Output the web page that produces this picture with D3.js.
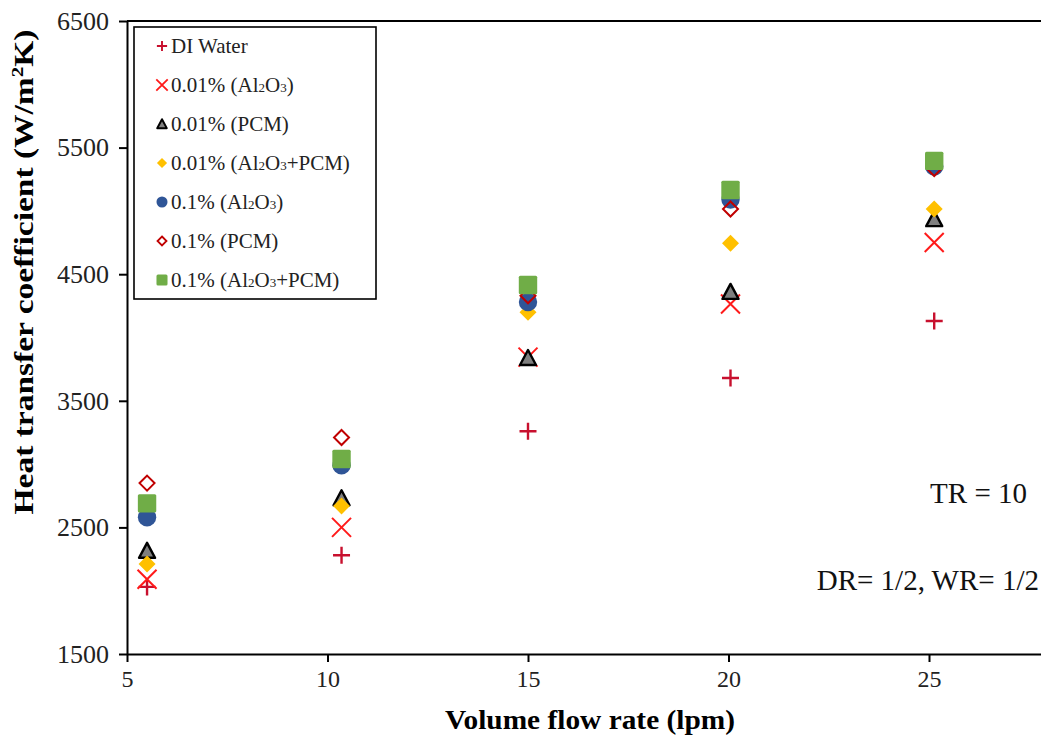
<!DOCTYPE html>
<html>
<head>
<meta charset="utf-8">
<script src="https://cdnjs.cloudflare.com/ajax/libs/d3/7.8.5/d3.min.js"></script>
<style>
  body { margin: 0; background: #fff; }
  svg { display: block; font-family: "Liberation Serif", "Times New Roman", serif; }
  svg text { font-family: "Liberation Serif", "Times New Roman", serif; }
</style>
</head>
<body>
<div id="maincontainer"></div>
<script>
// values
var flowRate = [5.5, 10.35, 15.0, 20.05, 25.13];
var diWater  = [2030, 2280, 3260, 3680, 4130];
var al001    = [2090, 2500, 3845, 4265, 4750];
var pcm001   = [2315, 2730, 3838, 4360, 4935];
var hyb001   = [2210, 2670, 4200, 4745, 5015];
var al01     = [2580, 2990, 4280, 5090, 5350];
var pcm01    = [2850, 3210, 4330, 5015, 5335];
var hyb01    = [2690, 3040, 4415, 5165, 5395];

var xTicks = [5, 10, 15, 20, 25];
var yTicks = [1500, 2500, 3500, 4500, 5500, 6500];

var series = [
  { name: "DI Water", values: diWater, mark: "plus" },
  { name: ["0.01% (Al", "2", "O", "3", ")"], values: al001, mark: "cross" },
  { name: "0.01% (PCM)", values: pcm001, mark: "triangle" },
  { name: ["0.01% (Al", "2", "O", "3", "+PCM)"], values: hyb001, mark: "diamond" },
  { name: ["0.1% (Al", "2", "O", "3", ")"], values: al01, mark: "circle" },
  { name: "0.1% (PCM)", values: pcm01, mark: "opendiamond" },
  { name: ["0.1% (Al", "2", "O", "3", "+PCM)"], values: hyb01, mark: "square" }
];

var width = 1041, height = 742;

var svg = d3.select("#maincontainer")
  .append("svg")
  .attr("width", width)
  .attr("height", height);

svg.append("rect").attr("width", width).attr("height", height).attr("fill", "#fff");

var x = d3.scaleLinear().domain([5, 30]).range([127, 127 + 25 * 40.1]);
var y = d3.scaleLinear().domain([1500, 6500]).range([654, 21]);

// draws one marker into g, s = size factor
function drawMark(g, type, s) {
  if (type == "plus") {
    g.append("path").attr("d", "M" + (-8.5 * s) + ",0H" + (8.5 * s) + "M0," + (-8.5 * s) + "V" + (8.5 * s))
      .attr("stroke", "#c8102e").attr("stroke-width", 2.4 * Math.max(s, 0.8)).attr("fill", "none");
  } else if (type == "cross") {
    var a = 9.5 * s;
    g.append("path").attr("d", "M" + (-a) + "," + (-a) + "L" + a + "," + a + "M" + (-a) + "," + a + "L" + a + "," + (-a))
      .attr("stroke", "#ff1a1a").attr("stroke-width", 2 * Math.max(s, 0.9)).attr("fill", "none");
  } else if (type == "triangle") {
    g.append("path").attr("d", "M0," + (-8 * s) + "L" + (8 * s) + "," + (7 * s) + "L" + (-8 * s) + "," + (7 * s) + "Z")
      .attr("fill", "#7f7f7f").attr("stroke", "#000").attr("stroke-width", 2.4 * Math.max(s, 0.8))
      .attr("stroke-linejoin", "round");
  } else if (type == "diamond") {
    var b = 8.5 * s;
    g.append("path").attr("d", "M0," + (-b) + "L" + b + ",0L0," + b + "L" + (-b) + ",0Z")
      .attr("fill", "#ffc000");
  } else if (type == "circle") {
    g.append("circle").attr("r", 9.2 * s).attr("fill", "#2f5597");
  } else if (type == "opendiamond") {
    var c = 7.5 * s;
    g.append("path").attr("d", "M0," + (-c) + "L" + c + ",0L0," + c + "L" + (-c) + ",0Z")
      .attr("fill", "none").attr("stroke", "#c00000").attr("stroke-width", 2 * Math.max(s, 0.9));
  } else if (type == "square") {
    g.append("rect").attr("x", -9.2 * s).attr("y", -9.2 * s)
      .attr("width", 18.4 * s).attr("height", 18.4 * s).attr("rx", 1.5)
      .attr("fill", "#70ad47");
  }
}

// axes
var xAxis = svg.append("g")
  .attr("transform", "translate(0," + y(1500) + ")")
  .call(d3.axisBottom(x).tickValues(xTicks).tickSize(8).tickSizeOuter(0).tickPadding(8)
    .tickFormat(d3.format("d")));
var yAxis = svg.append("g")
  .attr("transform", "translate(" + x(5) + ",0)")
  .call(d3.axisLeft(y).tickValues(yTicks).tickSize(8).tickSizeOuter(0).tickPadding(10)
    .tickFormat(d3.format("d")));

[xAxis, yAxis].forEach(function(ax) {
  ax.select(".domain").attr("stroke", "#000").attr("stroke-width", 2);
  ax.selectAll(".tick line").attr("stroke", "#000").attr("stroke-width", 2);
  ax.selectAll(".tick text").attr("fill", "#222").style("font-family", "Liberation Serif, serif");
});
xAxis.selectAll(".tick text").style("font-size", "24px");
yAxis.selectAll(".tick text").style("font-size", "26px");

// top frame line
svg.append("line")
  .attr("x1", x(5)).attr("x2", width)
  .attr("y1", y(6500)).attr("y2", y(6500))
  .attr("stroke", "#000").attr("stroke-width", 2);

// points
series.forEach(function(s) {
  var g = svg.append("g");
  s.values.forEach(function(v, i) {
    var m = g.append("g").attr("transform", "translate(" + x(flowRate[i]) + "," + y(v) + ")");
    drawMark(m, s.mark, 1);
  });
});

// legend
var legend = svg.append("g");
legend.append("rect")
  .attr("x", 134).attr("y", 27).attr("width", 242).attr("height", 272)
  .attr("fill", "#fff").attr("stroke", "#000").attr("stroke-width", 1.6);

series.forEach(function(s, i) {
  var cy = 46 + i * 39;
  var m = legend.append("g").attr("transform", "translate(162," + cy + ")");
  drawMark(m, s.mark, 0.6);
  var t = legend.append("text")
    .attr("x", 171).attr("y", cy + 7)
    .attr("fill", "#222")
    .style("font-size", "21px");
  if (typeof s.name == "string") {
    t.text(s.name);
  } else {
    s.name.forEach(function(part, j) {
      var sp = t.append("tspan").text(part);
      if (j == 1 || j == 3) sp.style("font-size", "13px");
    });
  }
});

// axis titles
svg.append("text")
  .attr("x", 590).attr("y", 729)
  .attr("text-anchor", "middle")
  .attr("textLength", 290).attr("lengthAdjust", "spacingAndGlyphs")
  .style("font-size", "27px").style("font-weight", "bold")
  .text("Volume flow rate (lpm)");

var yt = svg.append("text")
  .attr("transform", "translate(33,272) rotate(-90)")
  .attr("text-anchor", "middle")
  .attr("textLength", 485).attr("lengthAdjust", "spacingAndGlyphs")
  .style("font-size", "27px").style("font-weight", "bold");
yt.append("tspan").text("Heat transfer coefficient (W/m");
yt.append("tspan").text("2").style("font-size", "17px").attr("dy", -10);
yt.append("tspan").text("K)").attr("dy", 10);

// notes
svg.append("text")
  .attr("x", 1027).attr("y", 503).attr("text-anchor", "end")
  .style("font-size", "29px").attr("fill", "#111")
  .text("TR = 10");
svg.append("text")
  .attr("x", 1039).attr("y", 590).attr("text-anchor", "end")
  .style("font-size", "29px").attr("fill", "#111")
  .text("DR= 1/2, WR= 1/2");
</script>
</body>
</html>
